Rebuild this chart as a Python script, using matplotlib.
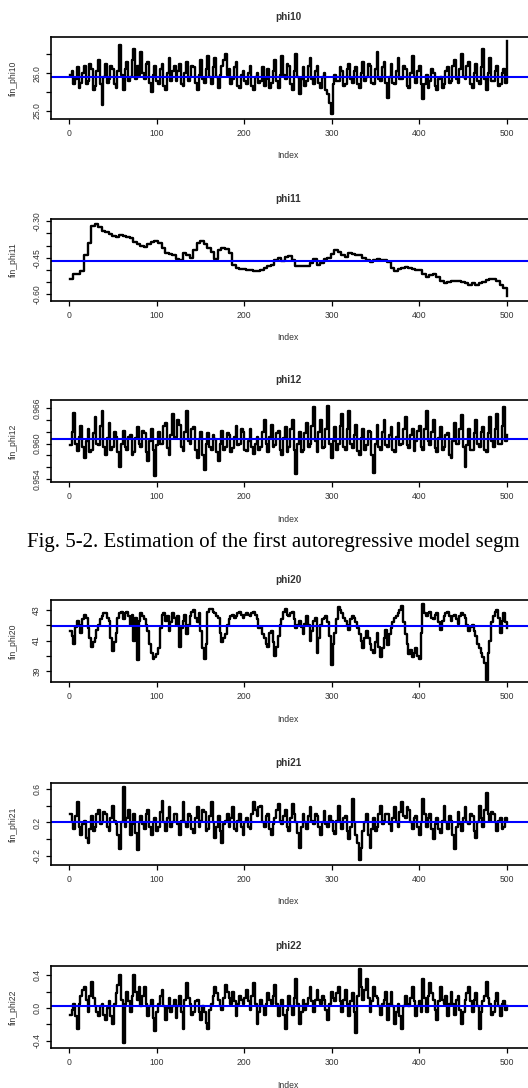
import matplotlib
matplotlib.use("Agg")
import matplotlib.pyplot as plt
import numpy as np

W, H = 528, 1088

# ---- data (one value every ~2 index steps) ----
NAMES = ["phi10", "phi11", "phi12", "phi20", "phi21", "phi22"]
YLABELS = ["fin_phi10", "fin_phi11", "fin_phi12", "fin_phi20", "fin_phi21", "fin_phi22"]

phi10 = [
    25.95, 26.05, 25.70, 25.85, 26.15, 25.60, 25.75, 26.00, 26.20, 25.70,
    25.80, 26.25, 26.10, 25.55, 25.65, 26.05, 26.35, 25.70, 25.15, 25.90,
    26.25, 25.75, 25.85, 26.20, 26.10, 25.70, 25.60, 26.05, 26.75, 25.95,
    25.55, 26.10, 26.30, 25.80, 25.90, 26.35, 26.65, 25.85, 26.20, 25.95,
    26.55, 26.00, 25.85, 26.25, 26.30, 25.75, 25.50, 25.95, 26.20, 25.80,
    25.70, 26.10, 26.25, 25.65, 25.55, 26.00, 26.40, 25.80, 26.05, 26.20,
    25.80, 26.05, 26.25, 25.70, 25.65, 26.00, 26.30, 25.80, 25.90, 26.20,
    26.15, 25.75, 25.55, 25.95, 26.35, 25.85, 25.75, 26.10, 26.45, 25.90,
    25.70, 26.15, 26.40, 25.90, 25.60, 25.95, 26.20, 26.35, 26.50, 25.95,
    26.10, 25.70, 25.85, 26.15, 26.30, 25.65, 25.60, 25.95, 26.05, 25.80,
    25.70, 26.00, 26.20, 25.65, 25.55, 25.90, 26.00, 25.75, 25.80, 26.15,
    25.65, 25.85, 26.10, 25.60, 25.75, 26.05, 26.35, 25.80, 25.60, 25.95,
    26.45, 25.95, 25.85, 26.25, 26.20, 25.70, 25.55, 26.05, 26.50, 25.90,
    25.45, 25.85, 26.15, 25.65, 25.80, 26.20, 26.40, 25.85, 25.70, 26.05,
    26.20, 25.75, 25.60, 25.90, 26.00, 25.55, 25.45, 25.20, 24.90, 25.70,
    25.95, 25.80, 25.80, 26.15, 26.05, 25.65, 25.70, 26.10, 26.25, 25.85,
    25.75, 26.05, 26.15, 25.70, 25.60, 26.00, 26.30, 25.80, 25.90, 26.25,
    26.20, 25.75, 25.70, 26.10, 26.55, 25.85, 25.80, 26.15, 26.30, 25.75,
    25.35, 25.90, 26.25, 25.75, 25.70, 26.05, 26.40, 25.85, 25.85, 26.20,
    26.10, 25.65, 25.60, 26.00, 26.45, 25.90, 25.75, 26.05, 26.20, 25.70,
    25.30, 25.70, 25.95, 25.60, 25.80, 26.10, 26.00, 25.65, 25.55, 25.85,
    25.90, 25.60, 25.70, 26.05, 26.15, 25.75, 25.80, 26.20, 26.35, 25.85,
    25.75, 26.10, 26.50, 25.90, 25.85, 26.20, 26.30, 25.70, 25.60, 26.00,
    26.25, 25.80, 25.70, 26.15, 26.65, 25.85, 25.55, 26.00, 26.40, 25.80,
    25.80, 26.05, 26.20, 25.65, 25.70, 26.00, 26.10, 25.75, 26.85,
]

phi11 = [
    -0.536, -0.518, -0.518, -0.505, -0.440, -0.390, -0.320, -0.310, -0.325, -0.340,
    -0.345, -0.352, -0.360, -0.365, -0.355, -0.360, -0.365, -0.370, -0.385, -0.395,
    -0.400, -0.405, -0.395, -0.385, -0.382, -0.390, -0.410, -0.430, -0.435, -0.440,
    -0.455, -0.460, -0.432, -0.440, -0.450, -0.420, -0.390, -0.380, -0.395, -0.410,
    -0.425, -0.455, -0.420, -0.408, -0.415, -0.430, -0.478, -0.490, -0.497, -0.495,
    -0.500, -0.498, -0.503, -0.505, -0.498, -0.490, -0.485, -0.480, -0.460, -0.450,
    -0.465, -0.448, -0.442, -0.460, -0.485, -0.485, -0.483, -0.485, -0.470, -0.455,
    -0.480, -0.470, -0.455, -0.450, -0.435, -0.420, -0.425, -0.440, -0.445, -0.430,
    -0.433, -0.440, -0.440, -0.450, -0.460, -0.468, -0.458, -0.455, -0.458, -0.460,
    -0.468, -0.490, -0.503, -0.495, -0.490, -0.489, -0.490, -0.495, -0.498, -0.500,
    -0.515, -0.530, -0.520, -0.516, -0.530, -0.545, -0.553, -0.550, -0.545, -0.545,
    -0.543, -0.550, -0.555, -0.560, -0.555, -0.560, -0.553, -0.550, -0.542, -0.538,
    -0.535, -0.545, -0.560, -0.575, -0.605,
]

phi12 = [
    0.9597, 0.9620, 0.9652, 0.9600, 0.9588, 0.9612, 0.9630, 0.9595, 0.9575, 0.9605,
    0.9625, 0.9585, 0.9590, 0.9618, 0.9645, 0.9600, 0.9598, 0.9630, 0.9656, 0.9595,
    0.9580, 0.9610, 0.9635, 0.9590, 0.9595, 0.9620, 0.9612, 0.9585, 0.9560, 0.9600,
    0.9622, 0.9595, 0.9590, 0.9612, 0.9615, 0.9580, 0.9585, 0.9610, 0.9628, 0.9600,
    0.9595, 0.9622, 0.9618, 0.9585, 0.9570, 0.9605, 0.9625, 0.9590, 0.9545, 0.9598,
    0.9620, 0.9600, 0.9600, 0.9630, 0.9635, 0.9592, 0.9580, 0.9615, 0.9650, 0.9610,
    0.9612, 0.9640, 0.9632, 0.9595, 0.9588, 0.9620, 0.9655, 0.9605, 0.9600, 0.9625,
    0.9628, 0.9590, 0.9575, 0.9608, 0.9620, 0.9580, 0.9556, 0.9600, 0.9618, 0.9595,
    0.9590, 0.9615, 0.9608, 0.9585, 0.9570, 0.9600, 0.9622, 0.9590, 0.9595, 0.9618,
    0.9615, 0.9585, 0.9592, 0.9612, 0.9630, 0.9598, 0.9600, 0.9625, 0.9620, 0.9590,
    0.9588, 0.9605, 0.9625, 0.9595, 0.9582, 0.9600, 0.9612, 0.9590, 0.9595, 0.9620,
    0.9640, 0.9600, 0.9585, 0.9612, 0.9632, 0.9595, 0.9598, 0.9618, 0.9622, 0.9590,
    0.9580, 0.9610, 0.9628, 0.9585, 0.9595, 0.9625, 0.9640, 0.9590, 0.9548, 0.9600,
    0.9620, 0.9585, 0.9590, 0.9618, 0.9635, 0.9595, 0.9600, 0.9630, 0.9662, 0.9605,
    0.9585, 0.9620, 0.9640, 0.9592, 0.9595, 0.9625, 0.9663, 0.9600, 0.9575, 0.9605,
    0.9628, 0.9590, 0.9600, 0.9630, 0.9650, 0.9595, 0.9590, 0.9625, 0.9655, 0.9600,
    0.9592, 0.9615, 0.9632, 0.9588, 0.9580, 0.9610, 0.9625, 0.9590, 0.9598, 0.9622,
    0.9620, 0.9580, 0.9550, 0.9600, 0.9632, 0.9595, 0.9590, 0.9620, 0.9640, 0.9598,
    0.9595, 0.9615, 0.9628, 0.9590, 0.9585, 0.9612, 0.9635, 0.9598, 0.9600, 0.9625,
    0.9645, 0.9598, 0.9592, 0.9615, 0.9625, 0.9588, 0.9605, 0.9622, 0.9630, 0.9595,
    0.9590, 0.9625, 0.9655, 0.9605, 0.9598, 0.9620, 0.9640, 0.9592, 0.9585, 0.9610,
    0.9628, 0.9590, 0.9595, 0.9615, 0.9618, 0.9580, 0.9575, 0.9605, 0.9635, 0.9600,
    0.9600, 0.9625, 0.9648, 0.9595, 0.9560, 0.9598, 0.9625, 0.9590, 0.9590, 0.9618,
    0.9640, 0.9600, 0.9595, 0.9620, 0.9628, 0.9590, 0.9585, 0.9618, 0.9645, 0.9605,
    0.9595, 0.9625, 0.9650, 0.9600, 0.9600, 0.9630, 0.9662, 0.9605, 0.9615,
]

phi20 = [
    41.6, 41.3, 40.8, 41.9, 42.3, 42.0, 41.5, 42.4, 42.7, 42.5,
    41.8, 41.2, 40.6, 40.9, 41.2, 41.7, 42.0, 42.4, 42.6, 42.8,
    42.8, 42.5, 42.3, 41.2, 40.3, 40.9, 41.5, 42.5, 42.8, 42.9,
    42.4, 42.8, 42.9, 42.6, 42.0, 42.7, 41.0, 42.5, 39.7, 42.3,
    42.8, 42.6, 42.4, 42.0, 41.6, 40.8, 40.2, 39.8, 39.9, 40.1,
    40.5, 41.8, 42.7, 42.8, 42.3, 42.6, 41.6, 42.2, 42.8, 42.5,
    42.0, 42.6, 40.6, 41.8, 42.3, 42.7, 41.4, 42.0, 42.6, 42.9,
    43.0, 42.5, 42.2, 42.8, 41.6, 40.5, 39.8, 40.8, 42.9, 43.1,
    43.1, 42.9, 42.8, 42.6, 42.5, 41.5, 40.9, 41.2, 41.4, 42.0,
    42.4, 42.6, 42.7, 42.5, 42.6, 42.8, 42.9, 42.7, 42.5, 42.7,
    42.8, 42.7, 42.6, 42.8, 42.9, 42.7, 42.4, 41.8, 41.9, 41.4,
    41.2, 40.8, 40.6, 41.5, 41.6, 40.9, 40.0, 40.6, 41.3, 42.0,
    42.4, 42.9, 43.1, 42.7, 42.6, 42.8, 42.9, 42.4, 41.8, 42.0,
    42.3, 41.9, 41.4, 42.1, 42.6, 42.0, 41.0, 41.6, 42.3, 42.5,
    40.2, 41.2, 42.0, 42.4, 42.5, 42.6, 42.2, 41.3, 39.4, 40.8,
    41.5, 42.4, 43.2, 43.0, 42.8, 42.5, 42.3, 42.0, 41.7, 42.4,
    42.6, 42.5, 42.2, 41.8, 41.4, 41.0, 40.5, 41.2, 41.6, 41.2,
    40.8, 40.4, 40.2, 40.9, 41.5, 40.6, 39.9, 40.5, 41.2, 41.7,
    40.7, 41.4, 41.8, 42.2, 42.5, 42.6, 42.8, 43.0, 43.3, 42.2,
    41.4, 40.8, 40.1, 40.4, 39.9, 40.2, 40.5, 40.0, 39.8, 41.5,
    43.4, 42.8, 42.6, 42.8, 42.9, 42.5, 42.4, 42.7, 42.8, 42.2,
    41.7, 42.3, 42.6, 42.8, 42.9, 42.6, 42.3, 42.6, 42.7, 42.4,
    42.1, 42.6, 42.8, 42.7, 42.5, 42.0, 41.6, 41.9, 42.0, 41.6,
    41.3, 40.8, 40.5, 40.2, 39.9, 39.5, 38.4, 40.2, 41.0, 42.2,
    42.6, 42.9, 43.0, 42.5, 41.5, 42.3, 42.8, 42.2, 41.8,
]

phi21 = [
    0.30, 0.20, 0.12, 0.28, 0.45, 0.15, 0.05, 0.18, 0.22, 0.02,
    -0.05, 0.12, 0.28, 0.10, 0.15, 0.30, 0.35, 0.18, 0.20, 0.32,
    0.30, 0.15, 0.10, 0.25, 0.40, 0.22, 0.18, 0.05, -0.12, 0.20,
    0.63, 0.15, 0.25, 0.35, 0.05, 0.18, 0.30, 0.08, -0.13, 0.20,
    0.28, 0.18, 0.12, 0.30, 0.35, 0.15, 0.05, 0.20, 0.25, 0.10,
    0.15, 0.32, 0.46, 0.20, 0.10, 0.25, 0.38, 0.15, 0.20, 0.30,
    0.30, 0.18, 0.05, 0.22, 0.45, 0.20, 0.15, 0.30, 0.28, 0.12,
    0.08, 0.25, 0.38, 0.15, 0.22, 0.35, 0.32, 0.10, 0.12, 0.28,
    0.45, 0.20, 0.02, 0.15, 0.28, 0.10, -0.05, 0.18, 0.22, 0.30,
    0.15, 0.25, 0.38, 0.12, 0.10, 0.22, 0.30, 0.15, 0.05, 0.20,
    0.25, 0.15, 0.12, 0.30, 0.44, 0.35, 0.28, 0.38, 0.40, 0.20,
    0.15, 0.28, 0.30, 0.12, 0.05, 0.18, 0.25, 0.35, 0.42, 0.22,
    0.18, 0.28, 0.35, 0.15, 0.10, 0.25, 0.42, 0.30, 0.20, 0.08,
    -0.10, 0.15, 0.30, 0.20, 0.12, 0.28, 0.38, 0.22, 0.18, 0.30,
    0.28, 0.15, 0.05, 0.20, 0.34, 0.18, 0.15, 0.28, 0.22, 0.10,
    0.06, 0.22, 0.40, 0.20, 0.12, 0.25, 0.28, 0.10, 0.00, 0.15,
    0.48, 0.20, 0.05, -0.05, -0.25, -0.10, 0.10, 0.20, 0.30, 0.05,
    -0.10, 0.12, 0.25, 0.10, 0.15, 0.30, 0.40, 0.18, 0.22, 0.30,
    0.30, 0.18, 0.10, 0.25, 0.38, 0.20, 0.15, 0.32, 0.45, 0.28,
    0.25, 0.38, 0.35, 0.20, 0.12, 0.25, 0.28, 0.15, 0.05, 0.20,
    0.48, 0.30, 0.15, 0.25, 0.30, 0.12, 0.00, 0.18, 0.25, 0.12,
    0.08, 0.22, 0.40, 0.20, 0.12, 0.28, 0.22, 0.05, -0.12, 0.15,
    0.32, 0.18, 0.10, 0.25, 0.38, 0.20, 0.18, 0.30, 0.28, 0.10,
    0.02, 0.20, 0.40, 0.25, 0.15, 0.35, 0.55, 0.30, 0.22, 0.32,
    0.30, 0.20, 0.10, 0.22, 0.25, 0.12, 0.15, 0.25, 0.22,
]

phi22 = [
    -0.08, -0.02, 0.05, -0.10, -0.25, 0.05, 0.15, 0.22, 0.25, 0.10,
    -0.05, 0.15, 0.32, 0.12, 0.02, -0.05, -0.10, 0.02, 0.05, -0.08,
    -0.15, 0.00, 0.08, -0.10, -0.20, 0.05, 0.18, 0.28, 0.40, 0.10,
    -0.42, 0.05, 0.20, 0.08, -0.05, 0.15, 0.40, 0.20, 0.10, 0.25,
    0.02, 0.15, 0.25, 0.05, -0.10, 0.02, 0.10, -0.12, -0.28, -0.05,
    0.05, 0.15, 0.22, 0.02, -0.15, 0.00, 0.12, -0.05, 0.02, 0.10,
    -0.12, 0.02, 0.15, -0.05, -0.25, 0.10, 0.30, 0.12, 0.05, -0.08,
    -0.05, 0.08, 0.10, -0.05, -0.15, 0.02, -0.05, -0.18, -0.25, -0.02,
    0.05, 0.15, 0.25, 0.18, 0.10, 0.02, -0.02, 0.12, 0.28, 0.20,
    0.12, 0.05, 0.20, 0.08, -0.10, 0.05, 0.15, 0.10, 0.05, 0.12,
    0.22, 0.08, -0.02, 0.15, 0.30, 0.05, -0.20, -0.05, 0.10, 0.02,
    -0.08, 0.05, 0.18, 0.10, 0.05, 0.15, 0.28, 0.05, -0.10, 0.02,
    0.10, -0.08, -0.25, -0.02, 0.15, 0.02, -0.08, 0.12, 0.35, 0.05,
    -0.20, -0.05, 0.10, -0.02, 0.05, 0.12, 0.25, 0.08, -0.05, 0.10,
    0.22, 0.10, 0.05, 0.15, 0.10, -0.02, -0.15, 0.05, 0.20, 0.12,
    0.08, 0.18, 0.25, 0.08, -0.05, 0.10, 0.22, 0.05, -0.10, 0.08,
    0.18, -0.05, -0.30, 0.15, 0.47, 0.25, 0.10, 0.22, 0.35, 0.12,
    -0.05, 0.08, 0.25, 0.15, 0.12, 0.02, -0.08, 0.05, 0.10, 0.20,
    -0.15, 0.05, 0.20, 0.02, -0.20, -0.05, 0.05, -0.10, -0.25, 0.02,
    0.15, 0.05, 0.02, 0.12, 0.25, 0.08, -0.10, 0.02, 0.08, -0.05,
    0.35, 0.12, -0.05, 0.15, 0.30, 0.18, 0.10, -0.02, -0.15, 0.08,
    0.25, 0.10, 0.05, 0.15, -0.10, 0.05, 0.20, 0.05, -0.08, 0.10,
    0.15, -0.02, -0.20, -0.05, 0.10, 0.18, 0.25, 0.08, -0.05, 0.10,
    0.18, 0.02, -0.25, -0.05, 0.08, 0.15, 0.32, 0.12, 0.05, -0.08,
    -0.05, 0.08, 0.18, 0.02, -0.10, 0.05, 0.08, -0.02, 0.02,
]

SERIES = [phi10, phi11, phi12, phi20, phi21, phi22]

# horizontal mean line of each panel
MEANS = [25.89, -0.462, 0.9607, 41.93, 0.20, 0.02]

# y ticks and which of them carry a label
YTICKS = [
    [25.0, 25.5, 26.0, 26.5],
    [-0.30, -0.35, -0.40, -0.45, -0.50, -0.55, -0.60],
    [0.954, 0.956, 0.958, 0.960, 0.962, 0.964, 0.966],
    [39, 40, 41, 42, 43],
    [-0.2, 0.0, 0.2, 0.4, 0.6],
    [-0.4, -0.2, 0.0, 0.2, 0.4],
]
YTICKLABELS = [
    ["25.0", "", "26.0", ""],
    ["-0.30", "", "", "-0.45", "", "", "-0.60"],
    ["0.954", "", "", "0.960", "", "", "0.966"],
    ["39", "", "41", "", "43"],
    ["-0.2", "", "0.2", "", "0.6"],
    ["-0.4", "", "0.0", "", "0.4"],
]
YLIMS = [
    (24.78, 26.96),
    (-0.627, -0.291),
    (0.9535, 0.96738),
    (38.27, 43.67),
    (-0.309, 0.673),
    (-0.486, 0.511),
]
XTICKS = [0, 100, 200, 300, 400, 500]

CAPTION = "Fig. 5-2. Estimation of the first autoregressive model segm"

# ---- layout in pixels ----
PANEL_TOPS = [37, 219, 400, 600, 783, 966]
PANEL_H = 82
AX_LEFT, AX_RIGHT = 51, 533          # right border runs off the page
X0_PX, PX_PER_UNIT = 69, 0.876       # where index 0 sits, and scale
TEXT = "#333333"
SANS = ["Liberation Sans", "DejaVu Sans"]


def fx(px):
    return px / W


def fy(px):
    return 1 - px / H


def draw_panel(fig, i):
    top = PANEL_TOPS[i]
    bottom = top + PANEL_H
    ax = fig.add_axes([fx(AX_LEFT), fy(bottom), fx(AX_RIGHT - AX_LEFT), PANEL_H / H])

    vals = SERIES[i]
    idx = np.linspace(1, 500, len(vals))
    ax.plot(idx, vals, drawstyle="steps-post", color="black", lw=1.7)
    ax.axhline(MEANS[i], color="#0000ff", lw=1.5)

    ax.set_xlim((AX_LEFT - X0_PX) / PX_PER_UNIT, (AX_RIGHT - X0_PX) / PX_PER_UNIT)
    ax.set_ylim(*YLIMS[i])
    ax.set_xticks(XTICKS, [str(t) for t in XTICKS])
    ax.set_yticks(YTICKS[i], YTICKLABELS[i])
    ax.tick_params(direction="out", length=3.5, width=0.9, colors="black",
                   labelcolor=TEXT, labelsize=6.2, pad=3.5)
    for lab in ax.get_yticklabels():
        lab.set_rotation(90)
        lab.set_verticalalignment("center")
        lab.set_family(SANS)
    for lab in ax.get_xticklabels():
        lab.set_family(SANS)
    for sp in ax.spines.values():
        sp.set_linewidth(1.2)

    fig.text(fx(288), fy(top - 20), NAMES[i], ha="center", va="center",
             fontsize=7.2, fontweight="bold", color=TEXT, family=SANS)
    fig.text(fx(288), fy(bottom + 37), "Index", ha="center", va="center",
             fontsize=6.2, color=TEXT, family=SANS)
    fig.text(fx(13), fy(top + PANEL_H / 2), YLABELS[i], ha="center", va="center",
             rotation=90, fontsize=6.2, color=TEXT, family=SANS)


def main():
    fig = plt.figure(figsize=(W / 100, H / 100), dpi=100)
    for i in range(len(SERIES)):
        draw_panel(fig, i)
    fig.text(fx(27), fy(547), CAPTION, ha="left", va="baseline",
             fontsize=15, color="black", family=["Liberation Serif", "DejaVu Serif"])
    fig.savefig("out.png", dpi=100)
    plt.close(fig)


if __name__ == "__main__":
    main()
